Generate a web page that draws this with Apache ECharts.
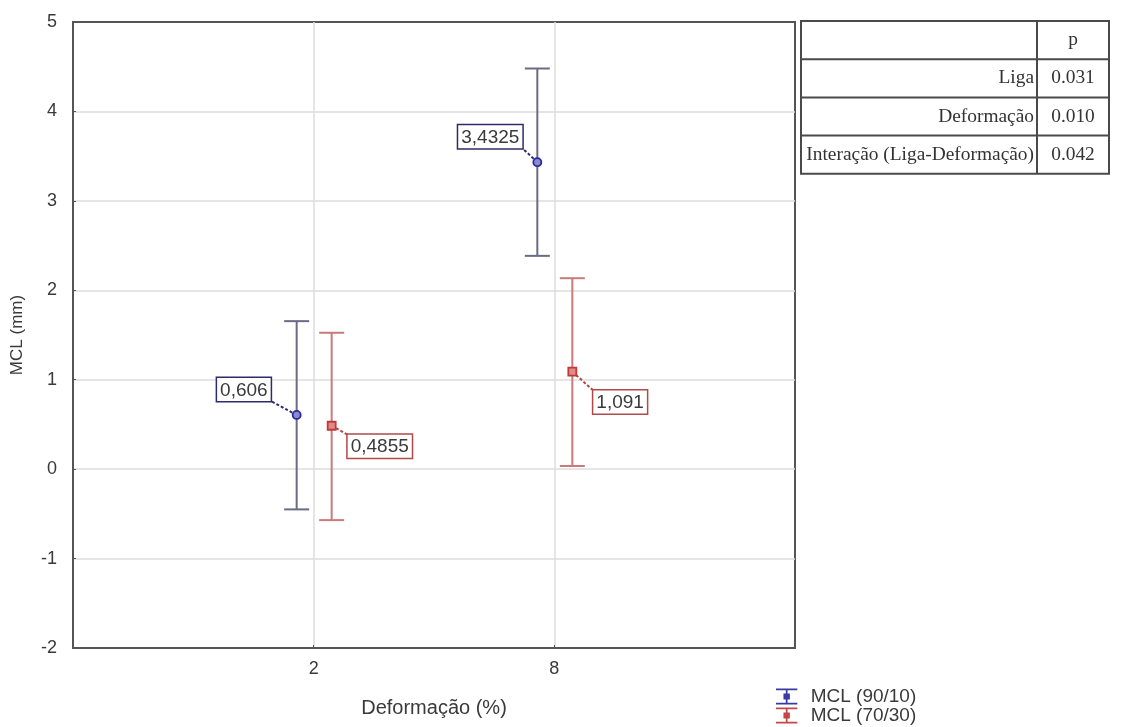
<!DOCTYPE html>
<html>
<head>
<meta charset="utf-8">
<script src="https://cdn.jsdelivr.net/npm/echarts@6/dist/echarts.min.js"></script>
<style>
  html, body { margin: 0; padding: 0; background: #ffffff; }
  #chart { width: 1129px; height: 727px; }
</style>
</head>
<body>
<div id="chart"></div>
<script>
// Deformation levels shown on the x axis (positions 1 and 2 on a 0..3 scale)
const xPositions = [1, 2];
const xTickLabels = ['2', '8'];

// Means and confidence limits of MCL (mm)
const seriesNames = ['MCL (90/10)', 'MCL (70/30)'];
const mean9010 = [0.606, 3.4325];
const low9010 = [-0.45, 2.385];
const high9010 = [1.655, 4.48];
const mean7030 = [0.4855, 1.091];
const low7030 = [-0.57, 0.035];
const high7030 = [1.525, 2.135];

// Significance table
const tableHeader = 'p';
const effectNames = ['Liga', 'Deformação', 'Interação (Liga-Deformação)'];
const pValues = ['0.031', '0.010', '0.042'];

const yTicks = [-2, -1, 0, 1, 2, 3, 4, 5];

function rows(means, lows, highs) {
  return xPositions.map((x, i) => [x, means[i], lows[i], highs[i]]);
}

const GRID = { left: 73, top: 22, right: 334, bottom: 79 };
const AXIS_TEXT = '#3a3a3a';
const SANS = '"Liberation Sans", Arial, sans-serif';
const LABEL_FONT = '19px ' + SANS;

// Drawing style per series: horizontal shift, colours and label placement
const styles = [
  {
    shift: -17,
    stem: '#6b6b86',
    mark: '#2a2aa0',
    box: '#2c2c66',
    marker: 'circle',
    // corner of the label box nearest to the point, and which way the box grows
    labels: [
      { dx: -26, dy: -14, align: 'right', vAlign: 'bottom' },
      { dx: -15, dy: -14, align: 'right', vAlign: 'bottom' }
    ]
  },
  {
    shift: 18,
    stem: '#c97a7a',
    mark: '#c03a3a',
    box: '#b24848',
    marker: 'square',
    labels: [
      { dx: 16, dy: 9, align: 'left', vAlign: 'top' },
      { dx: 21, dy: 19, align: 'left', vAlign: 'top' }
    ]
  }
];

function makeRenderer(st) {
  return function (params, api) {
    const i = params.dataIndex;
    const xv = api.value(0);
    const pMean = api.coord([xv, api.value(1)]);
    const yLow = api.coord([xv, api.value(2)])[1];
    const yHigh = api.coord([xv, api.value(3)])[1];
    const x = pMean[0] + st.shift;
    const y = pMean[1];
    const hw = 12.5;
    const lab = st.labels[i];
    const text = String(api.value(1)).replace('.', ',');
    const cx = x + lab.dx;
    const cy = y + lab.dy;

    const children = [
      { type: 'line', shape: { x1: x, y1: yHigh, x2: x, y2: yLow },
        style: { stroke: st.stem, lineWidth: 2 } },
      { type: 'line', shape: { x1: x - hw, y1: yHigh, x2: x + hw, y2: yHigh },
        style: { stroke: st.stem, lineWidth: 2 } },
      { type: 'line', shape: { x1: x - hw, y1: yLow, x2: x + hw, y2: yLow },
        style: { stroke: st.stem, lineWidth: 2 } },
      { type: 'line', shape: { x1: x, y1: y, x2: cx, y2: cy },
        style: { stroke: st.box, lineWidth: 2, lineDash: [3, 2] } }
    ];
    if (st.marker === 'circle') {
      children.push({ type: 'circle', shape: { cx: x, cy: y, r: 4 },
        style: { fill: '#8a8ad0', stroke: st.mark, lineWidth: 1.8 } });
    } else {
      children.push({ type: 'rect', shape: { x: x - 4, y: y - 4, width: 8, height: 8 },
        style: { fill: '#e08a8a', stroke: st.mark, lineWidth: 1.8 } });
    }
    children.push({
      type: 'text',
      x: cx, y: cy,
      style: {
        text: text,
        font: LABEL_FONT,
        fill: '#3a3a3a',
        align: lab.align,
        verticalAlign: lab.vAlign,
        backgroundColor: '#ffffff',
        borderColor: st.box,
        borderWidth: 1.5,
        padding: [3, 3, 1, 3]
      }
    });
    return { type: 'group', children: children };
  };
}

// Significance table drawn as graphic elements
const tableLeft = 801, tableRight = 1109, colSplit = 1037, tableTop = 21, rowH = 38.2;
const tableGraphics = [];
const nRows = effectNames.length + 1;
const tableBottom = tableTop + rowH * nRows;
tableGraphics.push({ type: 'rect', shape: { x: tableLeft, y: tableTop, width: tableRight - tableLeft, height: tableBottom - tableTop },
  style: { fill: '#ffffff', stroke: '#4a4a4a', lineWidth: 2 } });
tableGraphics.push({ type: 'line', shape: { x1: colSplit, y1: tableTop, x2: colSplit, y2: tableBottom },
  style: { stroke: '#4a4a4a', lineWidth: 2 } });
for (let r = 1; r < nRows; r++) {
  tableGraphics.push({ type: 'line', shape: { x1: tableLeft, y1: tableTop + rowH * r, x2: tableRight, y2: tableTop + rowH * r },
    style: { stroke: '#4a4a4a', lineWidth: 2 } });
}
const TABLE_FONT = '19.4px "Liberation Serif", "Times New Roman", serif';
tableGraphics.push({ type: 'text', x: (colSplit + tableRight) / 2, y: tableTop + rowH / 2,
  style: { text: tableHeader, font: TABLE_FONT, fill: '#333', align: 'center', verticalAlign: 'middle' } });
effectNames.forEach((name, i) => {
  const yc = tableTop + rowH * (i + 1.5);
  tableGraphics.push({ type: 'text', x: colSplit - 3, y: yc,
    style: { text: name, font: TABLE_FONT, fill: '#333', align: 'right', verticalAlign: 'middle' } });
  tableGraphics.push({ type: 'text', x: (colSplit + tableRight) / 2, y: yc,
    style: { text: pValues[i], font: TABLE_FONT, fill: '#333', align: 'center', verticalAlign: 'middle' } });
});

const legendIcon = 'path://M0,0H20V1.6H0Z M9.2,1.6H10.8V13.4H9.2Z M0,13.4H20V15H0Z M7,4.7H13V10.3H7Z';

const chart = echarts.init(document.getElementById('chart'), null, { renderer: 'canvas' });
chart.setOption({
  backgroundColor: '#ffffff',
  animation: false,
  grid: {
    left: GRID.left, top: GRID.top, right: GRID.right, bottom: GRID.bottom,
    outerBoundsMode: 'none', containLabel: false,
    show: true, borderColor: '#555555', borderWidth: 2, backgroundColor: 'transparent'
  },
  xAxis: {
    type: 'value', min: 0, max: 3, interval: 1,
    name: 'Deformação (%)', nameLocation: 'middle', nameGap: 50,
    nameTextStyle: { color: AXIS_TEXT, fontSize: 20, fontFamily: SANS },
    axisLine: { show: true, onZero: false, lineStyle: { color: '#555555', width: 2 } },
    axisTick: { show: true, inside: true, length: 3, lineStyle: { color: '#555555' } },
    axisLabel: {
      color: AXIS_TEXT, fontSize: 18, margin: 12, fontFamily: SANS,
      formatter: v => { const k = xPositions.indexOf(v); return k >= 0 ? xTickLabels[k] : ''; }
    },
    splitLine: { show: true, showMinLine: false, showMaxLine: false, lineStyle: { color: '#dcdcdc', width: 1.5 } }
  },
  yAxis: {
    type: 'value', min: yTicks[0], max: yTicks[yTicks.length - 1], interval: 1,
    name: 'MCL (mm)', nameLocation: 'middle', nameGap: 47, nameRotate: 90,
    nameTextStyle: { color: AXIS_TEXT, fontSize: 17, fontFamily: SANS },
    axisLine: { show: true, onZero: false, lineStyle: { color: '#555555', width: 2 } },
    axisTick: { show: true, inside: true, length: 3, lineStyle: { color: '#555555' } },
    axisLabel: { color: AXIS_TEXT, fontSize: 18, margin: 16, fontFamily: SANS },
    splitLine: { show: true, showMinLine: false, showMaxLine: false, lineStyle: { color: '#dcdcdc', width: 1.5 } }
  },
  legend: {
    orient: 'vertical', left: 776, top: 687, height: 60, padding: 0,
    itemWidth: 24, itemHeight: 16, itemGap: 0,
    data: seriesNames.map(n => ({ name: n, icon: legendIcon })),
    textStyle: { color: AXIS_TEXT, fontSize: 19, lineHeight: 19, fontFamily: SANS, padding: [0, 0, 0, 7] }
  },
  graphic: tableGraphics,
  series: [
    { name: seriesNames[0], type: 'custom', renderItem: makeRenderer(styles[0]),
      itemStyle: { color: '#3a3aa0' }, encode: { x: 0, y: [1, 2, 3] }, data: rows(mean9010, low9010, high9010), z: 3 },
    { name: seriesNames[1], type: 'custom', renderItem: makeRenderer(styles[1]),
      itemStyle: { color: '#c04848' }, encode: { x: 0, y: [1, 2, 3] }, data: rows(mean7030, low7030, high7030), z: 3 }
  ]
});
</script>
</body>
</html>
